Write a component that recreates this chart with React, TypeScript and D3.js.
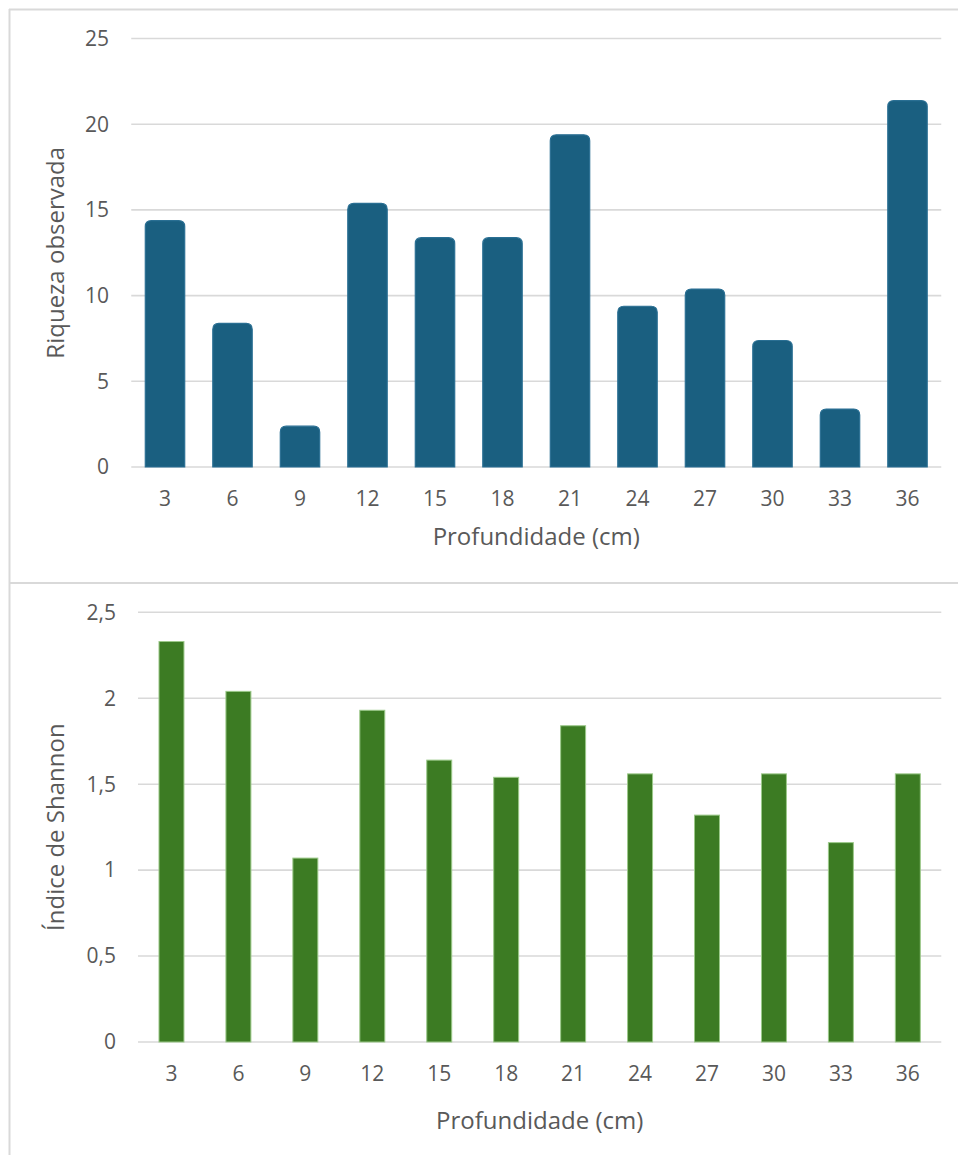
import React from "react";
import * as d3 from "d3";

const categories = ["3", "6", "9", "12", "15", "18", "21", "24", "27", "30", "33", "36"];
const richness = [14, 8, 2, 15, 13, 13, 19, 9, 10, 7, 3, 21];
const shannon = [2.33, 2.04, 1.07, 1.93, 1.64, 1.54, 1.84, 1.56, 1.32, 1.56, 1.16, 1.56];
const richnessTicks = [0, 5, 10, 15, 20, 25];
const shannonTicks = [0, 0.5, 1, 1.5, 2, 2.5];
const xTitle = "Profundidade (cm)";
const richnessTitle = "Riqueza observada";
const shannonTitle = "Índice de Shannon";

const W = 958;
const H = 1155;
const FONT = "'Open Sans', 'Liberation Sans', Arial, sans-serif";
const TEXT = "#595959";
const GRID = "#d9d9d9";

export default function App() {
  // top chart
  const x1 = d3.scaleBand<string>().domain(categories).range([131.25, 941.25]).paddingInner(0.416).paddingOuter(0.208);
  const y1 = d3.scaleLinear().domain([0, 25]).range([467, 38.5]);
  // bottom chart
  const x2 = d3.scaleBand<string>().domain(categories).range([138, 941.3]).paddingInner(0.627).paddingOuter(0.3135);
  const y2 = d3.scaleLinear().domain([0, 2.5]).range([1042, 612.3]);
  const fmt = (v: number) => String(v).replace(".", ",");
  const cap = 6.5;

  return (
    <svg width={W} height={H} style={{ position: "absolute", left: 0, top: 0, background: "#fff" }} fontFamily={FONT}>
      <rect x={0} y={0} width={W} height={H} fill="#fff" />
      {/* frame */}
      <line x1={9.5} x2={9.5} y1={9} y2={H} stroke={GRID} strokeWidth={2} />
      <line x1={9} x2={W} y1={9.5} y2={9.5} stroke={GRID} strokeWidth={2} />
      <line x1={9} x2={W} y1={583} y2={583} stroke={GRID} strokeWidth={2} />

      {/* top chart grid */}
      {richnessTicks.map((t) => (
        <g key={"g1" + t}>
          <line x1={x1.range()[0]} x2={x1.range()[1]} y1={y1(t)} y2={y1(t)} stroke={GRID} strokeWidth={1.6} />
          <text x={109} y={y1(t)} dy="0.35em" textAnchor="end" fontSize={21} fill={TEXT}>{t}</text>
        </g>
      ))}
      {categories.map((c, i) => {
        const top = y1(richness[i]) - cap;
        return (
          <path
            key={"b1" + c}
            d={(() => {
              const x = x1(c)!;
              const w = x1.bandwidth();
              const r = 6;
              const b = y1(0);
              return `M${x},${b}V${top + r}Q${x},${top} ${x + r},${top}H${x + w - r}Q${x + w},${top} ${x + w},${top + r}V${b}Z`;
            })()}
            fill="#1a5f80"
            stroke="#2a6f93"
            strokeWidth={1.2}
          />
        );
      })}
      {categories.map((c) => (
        <text key={"xl1" + c} x={x1(c)! + x1.bandwidth() / 2} y={505.5} textAnchor="middle" fontSize={21} fill={TEXT}>{c}</text>
      ))}
      <text x={(x1.range()[0] + x1.range()[1]) / 2} y={545} textAnchor="middle" fontSize={24} fill={TEXT}>{xTitle}</text>
      <text transform={`translate(64,${(y1(0) + y1(25)) / 2}) rotate(-90)`} textAnchor="middle" fontSize={24} fill={TEXT}>{richnessTitle}</text>

      {/* bottom chart grid */}
      {shannonTicks.map((t) => (
        <g key={"g2" + t}>
          <line x1={x2.range()[0]} x2={x2.range()[1]} y1={y2(t)} y2={y2(t)} stroke={GRID} strokeWidth={1.6} />
          <text x={116} y={y2(t)} dy="0.35em" textAnchor="end" fontSize={21} fill={TEXT}>{fmt(t)}</text>
        </g>
      ))}
      {categories.map((c, i) => (
        <rect
          key={"b2" + c}
          x={x2(c)!}
          y={y2(shannon[i])}
          width={x2.bandwidth()}
          height={y2(0) - y2(shannon[i])}
          fill="#3c7b23"
          stroke="#9cc98a"
          strokeWidth={1}
        />
      ))}
      {categories.map((c) => (
        <text key={"xl2" + c} x={x2(c)! + x2.bandwidth() / 2} y={1080.5} textAnchor="middle" fontSize={21} fill={TEXT}>{c}</text>
      ))}
      <text x={(x2.range()[0] + x2.range()[1]) / 2} y={1129} textAnchor="middle" fontSize={24} fill={TEXT}>{xTitle}</text>
      <text transform={`translate(64,${(y2(0) + y2(2.5)) / 2}) rotate(-90)`} textAnchor="middle" fontSize={24} fill={TEXT}>{shannonTitle}</text>
    </svg>
  );
}
